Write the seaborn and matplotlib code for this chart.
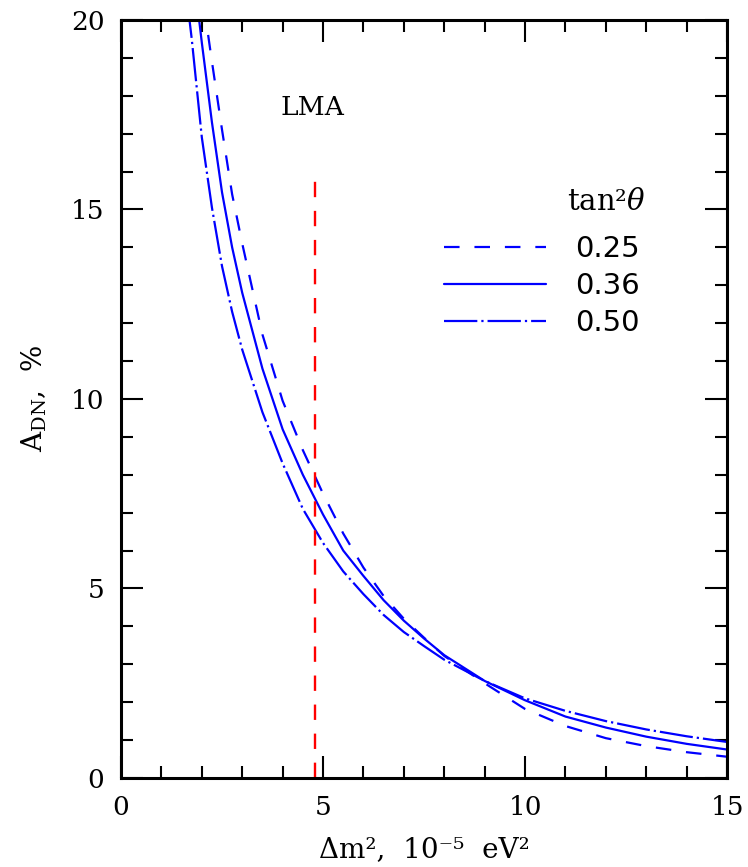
# -*- coding: utf-8 -*-
# Day-night asymmetry A_DN vs Delta m^2 for three values of tan^2(theta), LMA region

import numpy as np
import pandas as pd
import seaborn as sns
import matplotlib.pyplot as plt
from matplotlib.ticker import MultipleLocator

# Curves (Delta m^2 in 1e-5 eV^2, A_DN in %)
dm2_025 = [2.05, 2.25, 2.5, 2.75, 3.0, 3.5, 4.0, 4.5, 5.0, 5.5, 6.0, 6.5, 7.0,
           7.5, 8.0, 9.0, 10, 11, 12, 13, 14, 15]
adn_025 = [20.4, 18.9, 17.1, 15.4, 14.1, 11.7, 9.95, 8.65, 7.5, 6.45, 5.55,
           4.8, 4.2, 3.70, 3.22, 2.50, 1.82, 1.37, 1.05, 0.84, 0.68, 0.56]

dm2_036 = [1.9, 2.0, 2.25, 2.5, 2.75, 3.0, 3.5, 4.0, 4.5, 5.0, 5.5, 6.0, 6.5,
           7.0, 7.5, 8.0, 9.0, 10, 11, 12, 13, 14, 15]
adn_036 = [20.3, 19.4, 17.3, 15.45, 14.0, 12.8, 10.8, 9.2, 8.0, 6.95, 6.0,
           5.33, 4.69, 4.15, 3.68, 3.24, 2.56, 2.05, 1.62, 1.33, 1.09, 0.90, 0.75]

dm2_050 = [1.65, 1.75, 2.0, 2.25, 2.5, 2.75, 3.0, 3.5, 4.0, 4.5, 5.0, 5.5, 6.0,
           6.5, 7.0, 7.5, 8.0, 9.0, 10, 11, 12, 13, 14, 15]
adn_050 = [20.4, 19.5, 16.9, 15.05, 13.5, 12.3, 11.3, 9.65, 8.3, 7.1, 6.2,
           5.45, 4.85, 4.3, 3.85, 3.48, 3.12, 2.56, 2.1, 1.77, 1.50, 1.28,
           1.10, 0.95]

tan2_labels = ["0.25", "0.36", "0.50"]

# LMA best fit marker
lma_dm2 = 4.8
lma_top = 15.8

# long-form table for seaborn
frames = []
for lab, xs, ys in zip(tan2_labels, [dm2_025, dm2_036, dm2_050],
                       [adn_025, adn_036, adn_050]):
    frames.append(pd.DataFrame({"dm2": xs, "adn": ys, "tan2": lab}))
data = pd.concat(frames, ignore_index=True)

sns.set_theme(style="ticks")
plt.rcParams["font.family"] = ["DejaVu Serif"]
plt.rcParams["mathtext.fontset"] = "dejavuserif"
for key in ["text.color", "axes.labelcolor", "xtick.color", "ytick.color",
            "axes.edgecolor"]:
    plt.rcParams[key] = "black"

fig = plt.figure(figsize=(7.48, 8.67), dpi=100)
ax = fig.add_axes([0.1618, 0.1027, 0.8102, 0.8743])

blue = "#0000ff"
sns.lineplot(
    data=data, x="dm2", y="adn", hue="tan2", style="tan2",
    hue_order=tan2_labels, style_order=tan2_labels,
    palette={k: blue for k in tan2_labels},
    dashes={"0.25": (7, 6.7), "0.36": "", "0.50": (15, 1.8, 1, 1.8)},
    sort=False, estimator=None, linewidth=1.6, legend=False, ax=ax,
)

ax.vlines(lma_dm2, 0, lma_top, colors="#ff0000", linewidth=1.7,
          linestyles=(0, (6.5, 5.8)))

ax.set_xlim(0, 15)
ax.set_ylim(0, 20)
ax.xaxis.set_major_locator(MultipleLocator(5))
ax.xaxis.set_minor_locator(MultipleLocator(1))
ax.yaxis.set_major_locator(MultipleLocator(5))
ax.yaxis.set_minor_locator(MultipleLocator(1))
ax.tick_params(which="both", direction="in", top=True, right=True,
               width=1.5, color="black", labelcolor="black", labelsize=19,
               pad=12)
ax.tick_params(which="major", length=16)
ax.tick_params(which="minor", length=8.5)
for sp in ax.spines.values():
    sp.set_linewidth(2.2)
    sp.set_color("black")

ax.set_xlabel("Δm²,  10⁻⁵  eV²", fontsize=20, labelpad=12)
ax.set_ylabel(r"A$_{\mathrm{DN}}$,  %", fontsize=20, labelpad=16)

ax.text(4.73, 17.7, "LMA", fontsize=19, ha="center", va="center")

# legend
handles = ax.lines[:3]
leg = ax.legend(handles, tan2_labels, loc="center left",
                bbox_to_anchor=(8.0, 12.98), bbox_transform=ax.transData,
                frameon=False, handlelength=3.5,
                handletextpad=1.0, labelspacing=0.3, borderpad=0,
                borderaxespad=0, prop={"family": "DejaVu Sans", "size": 21})
ax.text(11.04, 15.2, r"tan²$\theta$", fontsize=21, ha="left", va="center")

fig.savefig("out.png", dpi=100)
